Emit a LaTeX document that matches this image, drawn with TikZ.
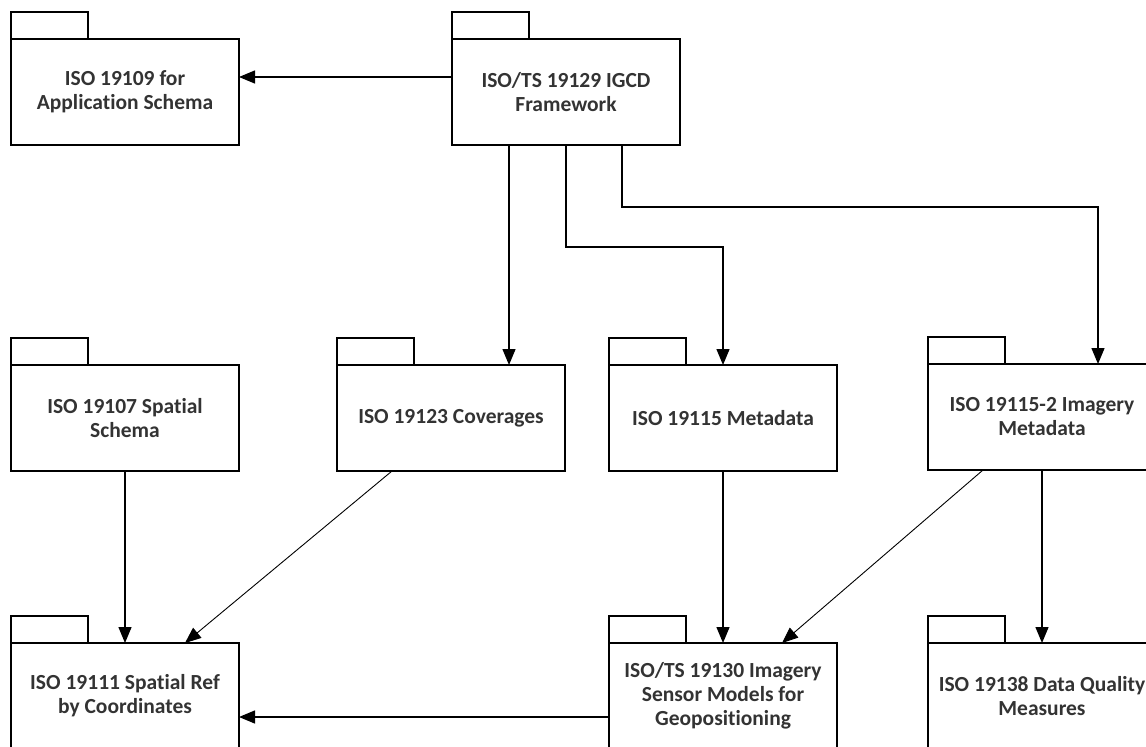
\documentclass[tikz,border=0pt]{standalone}
\usepackage{fontspec}
\setmainfont{Carlito}[Ligatures=NoCommon]
\usetikzlibrary{arrows.meta}

\begin{document}
\begin{tikzpicture}[x=1pt,y=-1pt]
\tikzstyle{pkg} = [rectangle, minimum width=228pt, minimum height=106pt, anchor=north west, outer sep=0pt, inner sep=2pt, align=center, draw=black, line width=1.7pt, text=black!80, font=\fontsize{21.5}{24}\selectfont\bfseries]
\tikzstyle{dep} = [-{Triangle[length=16pt,width=13pt]}, line width=1.4pt]
\tikzstyle{thin dep} = [-{Triangle[length=16pt,width=13pt]}, line width=0.9pt]
\clip (0,0) rectangle (1146,747);
\node (app)    [pkg] at (11,39)   {ISO 19109 for\\Application Schema};
\node (igcd)   [pkg] at (452,39)  {ISO/TS 19129 IGCD\\Framework};
\node (spat)   [pkg] at (11,365)  {ISO 19107 Spatial\\Schema};
\node (cov)    [pkg] at (337,365) {ISO 19123 Coverages};
\node (meta)   [pkg] at (609,365) {ISO 19115 Metadata};
\node (imeta)  [pkg] at (928,364) {ISO 19115-2 Imagery\\Metadata};
\node (ref)    [pkg] at (11,643)  {ISO 19111 Spatial Ref\\by Coordinates};
\node (sensor) [pkg] at (609,643) {ISO/TS 19130 Imagery\\Sensor Models for\\Geopositioning};
\node (qual)   [pkg] at (928,643) {ISO 19138 Data Quality\\Measures};
\foreach \p in {app,igcd,spat,cov,meta,imeta,ref,sensor,qual}
  \draw[line width=1.7pt] (\p.north west) rectangle ++(77,-27);

\draw[dep] ([yshift=15pt]igcd.west) -- ([yshift=15pt]igcd.west -| app.east);
\draw[dep] ([xshift=-57pt]igcd.south) -- ([xshift=-57pt]igcd.south |- cov.north);
\draw[dep] (igcd.south) -- ++(0,102) -| (meta.north);
\draw[dep] ([xshift=56pt]igcd.south) -- ++(0,62) -| ([xshift=56pt]imeta.north);
\draw[dep] (spat.south) -- (ref.north);
\draw[thin dep] ([xshift=-59pt]cov.south) -- ([xshift=60pt]ref.north);
\draw[dep] (meta.south) -- (sensor.north);
\draw[thin dep] ([xshift=-59pt]imeta.south) -- ([xshift=59pt]sensor.north);
\draw[dep] (imeta.south) -- (qual.north);
\draw[dep] ([yshift=-21pt]sensor.west) -- ([yshift=-21pt]sensor.west -| ref.east);
\end{tikzpicture}
\end{document}
